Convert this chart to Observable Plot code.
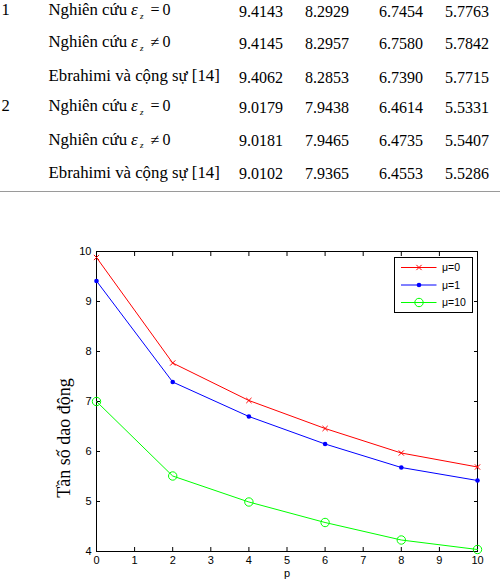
<!DOCTYPE html>
<html>
<head>
<meta charset="utf-8">
<script src="https://cdn.jsdelivr.net/npm/d3@7"></script>
<script src="https://cdn.jsdelivr.net/npm/@observablehq/plot@0.6"></script>
<style>
  html, body { margin: 0; padding: 0; background: #fff; }
  body { width: 500px; height: 586px; position: relative; overflow: hidden; }
  #table { position: absolute; left: 0; top: 0; }
  #chart { position: absolute; left: 0; top: 192px; }
  #legend { position: absolute; left: 0; top: 0; pointer-events: none; }
  #ylabel {
    position: absolute; left: 64px; top: 437.5px; white-space: nowrap;
    font-family: "Liberation Serif", "Times New Roman", serif; font-size: 18px; line-height: 1;
    transform: translate(-50%, -50%) rotate(-90deg); color: #000;
  }
</style>
</head>
<body>
<div id="table"></div>
<div id="chart"></div>
<div id="legend"></div>
<div id="ylabel"></div>
<script>
// ---------- table data ----------
const groupLabels = ["1", "2"];
const methodKinds = ["eq", "neq", "ref"];           // ε_z = 0, ε_z ≠ 0, reference
const methodPrefix = "Nghiên cứu";
const refLabel = "Ebrahimi và cộng sự [14]";
const tableValues = [
  [9.4143, 8.2929, 6.7454, 5.7763],
  [9.4145, 8.2957, 6.7580, 5.7842],
  [9.4062, 8.2853, 6.7390, 5.7715],
  [9.0179, 7.9438, 6.4614, 5.5331],
  [9.0181, 7.9465, 6.4735, 5.5407],
  [9.0102, 7.9365, 6.4553, 5.5286]
];

// ---------- chart data ----------
const pValues = [0, 2, 4, 6, 8, 10];
const mu0 = [9.88, 7.77, 7.02, 6.46, 5.97, 5.69];
const mu1 = [9.41, 7.39, 6.70, 6.15, 5.68, 5.42];
const mu10 = [7.00, 5.51, 4.99, 4.58, 4.23, 4.04];
const seriesNames = ["μ=0", "μ=1", "μ=10"];
const xTicks = [0, 1, 2, 3, 4, 5, 6, 7, 8, 9, 10];
const yTicks = [4, 5, 6, 7, 8, 9, 10];
const xLabel = "p";
const yLabel = "Tần số dao động";

// ---------- layout (not data) ----------
const serif = '"Liberation Serif", "Times New Roman", serif';
const sans = '"Liberation Sans", Arial, sans-serif';
const rowBaselines = [15.3, 47, 81, 111, 144.5, 177.5];
const colCenters = [261, 327, 401, 467];
const ruleMarks = [28, 48, 229, 298, 368, 432];
const colors = ["#ff0000", "#0000ff", "#00ff00"];

// ---------- table ----------
const tsvg = d3.select("#table").append("svg")
  .attr("width", 500).attr("height", 196);

const addText = (x, y, s, size, italic, anchor) => {
  const t = tsvg.append("text").attr("x", x).attr("y", y)
    .attr("font-family", serif).attr("font-size", size).attr("fill", "#000").text(s);
  if (italic) t.attr("font-style", "italic");
  if (anchor) t.attr("text-anchor", anchor);
  return t;
};

tableValues.forEach((row, i) => {
  const g = Math.floor(i / 3);
  const kind = methodKinds[i % 3];
  const yb = rowBaselines[i];
  if (i % 3 === 0) addText(1.5, yb, groupLabels[g], 16.5);
  if (kind === "ref") {
    addText(48.5, yb, refLabel, 16.8);
  } else {
    addText(48.5, yb, methodPrefix, 16.8);
    addText(131, yb, "ε", 17, true);
    addText(140, yb + 3.5, "z", 9, true);
    addText(150.5, yb, kind === "eq" ? "=" : "≠", 16);
    addText(162.5, yb, "0", 16);
  }
  row.forEach((v, j) => addText(colCenters[j], yb + 1.5, v.toFixed(4), 16, false, "middle"));
});
tsvg.append("line").attr("x1", 0).attr("x2", 500).attr("y1", 191.5).attr("y2", 191.5)
  .attr("stroke", "#9a9a9a").attr("stroke-width", 1.2);
ruleMarks.forEach(x => {
  tsvg.append("line").attr("x1", x).attr("x2", x).attr("y1", 192).attr("y2", 194)
    .attr("stroke", "#b0b0b0").attr("stroke-width", 1);
});

// ---------- chart ----------
const toPoints = (ys) => pValues.map((p, i) => ({p, v: ys[i]}));
const chart = Plot.plot({
  width: 500,
  height: 394,
  marginTop: 59,
  marginBottom: 35,
  marginLeft: 96,
  marginRight: 23,
  style: {fontFamily: sans, fontSize: "11px", color: "black", background: "white", overflow: "visible"},
  x: {domain: [0, 10]},
  y: {domain: [4, 10]},
  marks: [
    Plot.axisX(xTicks, {anchor: "bottom", tickSize: -4, tickPadding: 9, label: null, tickFormat: d => String(d)}),
    Plot.axisX(xTicks, {anchor: "top", tickSize: -4, label: null, tickFormat: () => ""}),
    Plot.axisY(yTicks, {anchor: "left", tickSize: -4, tickPadding: 9, label: null, tickFormat: d => String(d)}),
    Plot.axisY(yTicks, {anchor: "right", tickSize: -4, label: null, tickFormat: () => ""}),
    Plot.frame({stroke: "black", strokeWidth: 1}),
    Plot.line(toPoints(mu0), {x: "p", y: "v", stroke: colors[0], strokeWidth: 1}),
    Plot.line(toPoints(mu1), {x: "p", y: "v", stroke: colors[1], strokeWidth: 1}),
    Plot.line(toPoints(mu10), {x: "p", y: "v", stroke: colors[2], strokeWidth: 1}),
    Plot.dot(toPoints(mu0), {x: "p", y: "v", symbol: "times", r: 2.5, stroke: colors[0], strokeWidth: 1}),
    Plot.dot(toPoints(mu1), {x: "p", y: "v", r: 2.3, fill: colors[1], stroke: "none"}),
    Plot.dot(toPoints(mu10), {x: "p", y: "v", r: 4.2, stroke: colors[2], fill: "none", strokeWidth: 1}),
    Plot.text([xLabel], {frameAnchor: "bottom", dy: 25, fontFamily: sans, fontSize: 11})
  ]
});
document.getElementById("chart").appendChild(chart);
document.getElementById("ylabel").textContent = yLabel;

// ---------- legend ----------
const lsvg = d3.select("#legend").append("svg").attr("width", 500).attr("height", 586);
lsvg.append("rect").attr("x", 394.5).attr("y", 257.5).attr("width", 78).attr("height", 55)
  .attr("fill", "white").attr("stroke", "black").attr("stroke-width", 1);
const legendRows = [267.5, 285, 302.5];
seriesNames.forEach((name, i) => {
  const y = legendRows[i];
  lsvg.append("line").attr("x1", 401).attr("x2", 436.5).attr("y1", y).attr("y2", y)
    .attr("stroke", colors[i]).attr("stroke-width", 1);
  const cx = 419;
  if (i === 0) {
    lsvg.append("path").attr("d", d3.symbol(d3.symbolTimes, Math.PI * 2.5 * 2.5)())
      .attr("transform", `translate(${cx},${y})`).attr("stroke", colors[i]).attr("fill", "none");
  } else if (i === 1) {
    lsvg.append("circle").attr("cx", cx).attr("cy", y).attr("r", 2.3).attr("fill", colors[i]);
  } else {
    lsvg.append("circle").attr("cx", cx).attr("cy", y).attr("r", 4.2)
      .attr("fill", "none").attr("stroke", colors[i]).attr("stroke-width", 1);
  }
  lsvg.append("text").attr("x", 442).attr("y", y + 3.8)
    .attr("font-family", sans).attr("font-size", 10.5).attr("fill", "#000").text(name);
});
</script>
</body>
</html>
